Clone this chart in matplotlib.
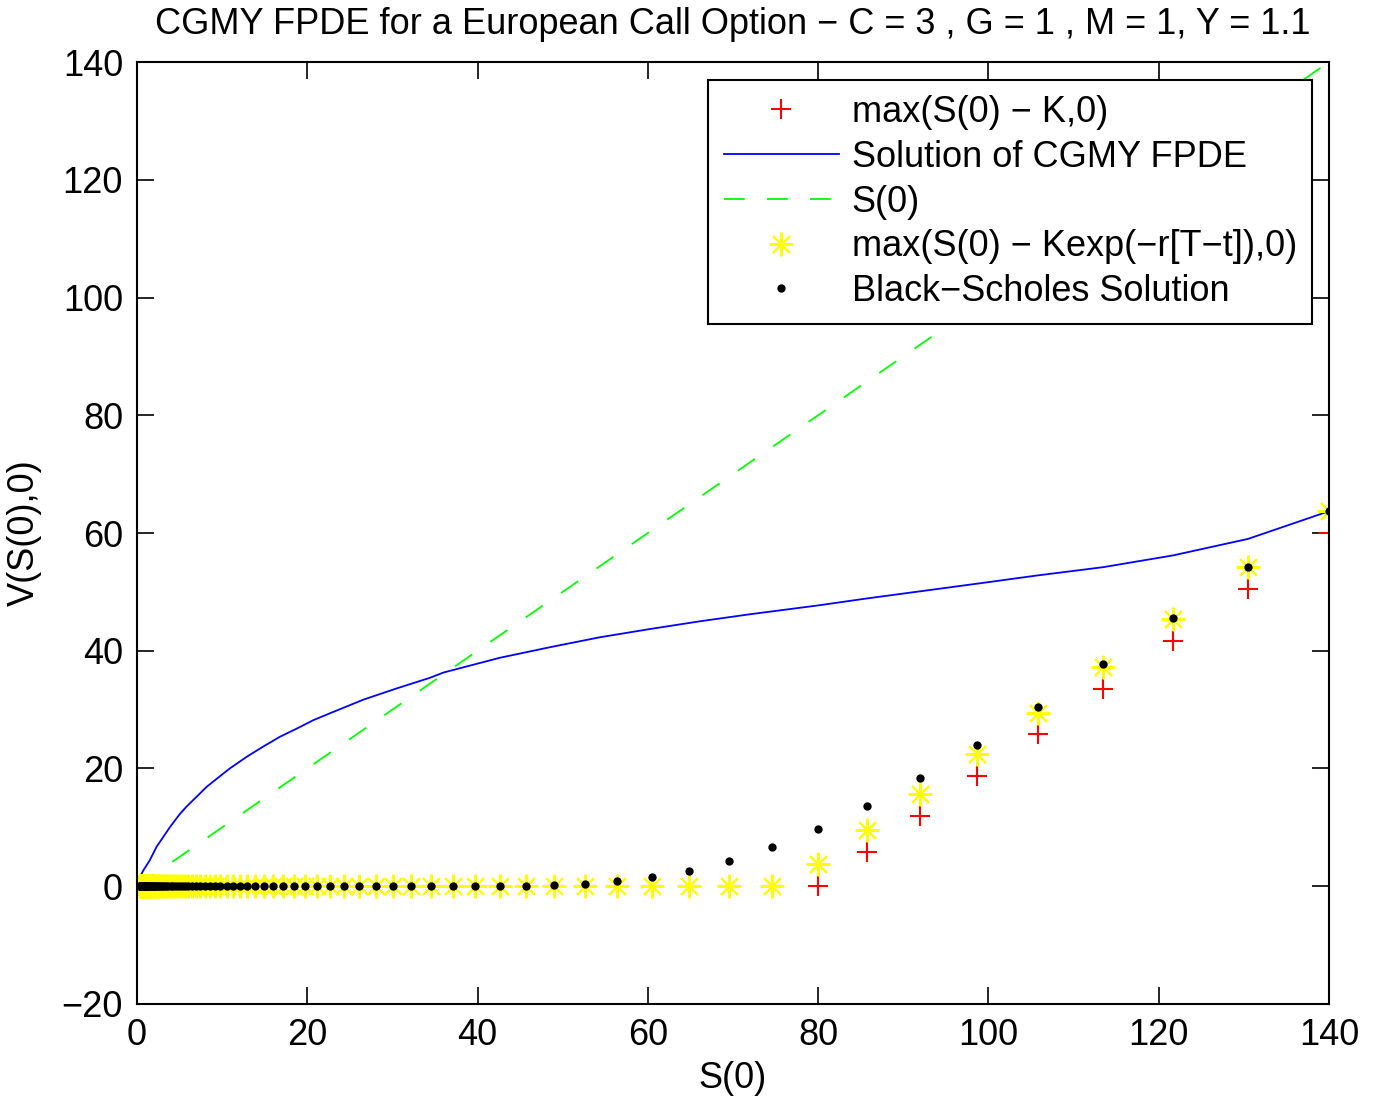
import numpy as np
import matplotlib
matplotlib.use('Agg')
import matplotlib.pyplot as plt

plt.rcParams['font.family'] = ['Liberation Sans', 'DejaVu Sans']

# S(0) grid below the strike
s_low = [0.30, 0.32, 0.34, 0.37, 0.39, 0.42, 0.45, 0.48, 0.52, 0.56, 0.60, 0.64, 0.69, 0.74,
         0.79, 0.85, 0.91, 0.98, 1.05, 1.12, 1.20, 1.29, 1.38, 1.48, 1.59, 1.71, 1.83, 1.96,
         2.11, 2.26, 2.42, 2.60, 2.79, 2.99, 3.20, 3.44, 3.69, 3.95, 4.24, 4.55, 4.88, 5.23,
         5.61, 6.01, 6.45, 6.92, 7.42, 7.95, 8.53, 9.15, 9.81, 10.52, 11.29, 12.10, 12.98,
         13.92, 14.93, 16.01, 17.17, 18.41, 19.75, 21.18, 22.71, 24.36, 26.12, 28.02, 30.05,
         32.22, 34.56, 37.06, 39.75, 42.63, 45.72, 49.03, 52.58, 56.39, 60.48, 64.86, 69.56,
         74.60]
# S(0) grid from the strike up
s_high = [80.00, 85.80, 92.01, 98.67, 105.82, 113.49, 121.71, 130.53, 140.00]

payoff_high = [0.0, 5.8, 12.0, 18.7, 25.8, 33.5, 41.7, 50.5, 60.0]
disc_high = [3.7, 9.5, 15.7, 22.4, 29.5, 37.2, 45.4, 54.2, 63.7]
# Black-Scholes values from S(0)=45.72 upwards, zero below
bs_tail = [0.1, 0.17, 0.45, 0.85, 1.6, 2.65, 4.3, 6.6,
           9.7, 13.6, 18.4, 24.0, 30.5, 37.7, 45.6, 54.3, 63.7]

# CGMY FPDE solution
cgmy_s = [0.0, 0.35, 0.75, 1.5, 2.3, 3.1, 3.9, 5.0, 5.8, 7.0, 8.2, 10.1, 10.9, 12.9, 14.8,
          16.8, 18.8, 20.7, 22.7, 26.6, 30.5, 34.4, 36.0, 42.6, 48.5, 54.4, 60.3, 66.1,
          72.0, 80.0, 85.8, 92.0, 98.7, 105.8, 113.5, 121.7, 130.5, 140.0]
cgmy_v = [0.0, 1.6, 2.7, 4.4, 6.7, 8.4, 10.1, 12.2, 13.5, 15.2, 16.9, 19.1, 20.0, 22.0, 23.7,
          25.4, 26.8, 28.2, 29.4, 31.7, 33.6, 35.4, 36.3, 38.8, 40.6, 42.3, 43.7, 45.0,
          46.2, 47.7, 48.9, 50.1, 51.4, 52.8, 54.2, 56.2, 59.0, 63.7]

s0 = np.array(s_low + s_high)
payoff = np.array([0.0] * len(s_low) + payoff_high)
disc = np.array([0.0] * len(s_low) + disc_high)
bs = np.array([0.0] * (len(s0) - len(bs_tail)) + bs_tail)

fig = plt.figure(figsize=(13.78, 11.04), dpi=100)
ax = fig.add_axes([0.0994, 0.0906, 0.8650, 0.8532])

fs = 26
ax.plot(s0, payoff, 'r+', ms=15, mew=1.5, label='max(S(0) \u2212 K,0)')
ax.plot(cgmy_s, cgmy_v, color='blue', lw=1.3, label='Solution of CGMY FPDE')
ax.plot([0, 140], [0, 140], color='#00ff00', lw=1.3, dashes=(11.5, 12.3), label='S(0)')
ax.plot(s0, disc, linestyle='none', marker=(8, 2, 0), color='yellow', ms=17, mew=1.5,
        label='max(S(0) \u2212 Kexp(\u2212r[T\u2212t]),0)')
ax.plot(s0, bs, 'o', color='black', ms=6, mew=0, label='Black\u2212Scholes Solution')

ax.set_xlim(0, 140)
ax.set_ylim(-20, 140)
ax.set_xticks(np.arange(0, 141, 20))
ax.set_yticks(np.arange(-20, 141, 20))
ax.tick_params(direction='in', length=12, width=1.2, top=True, right=True,
               labelsize=fs, pad=10)
for sp in ax.spines.values():
    sp.set_linewidth(1.5)

ax.set_xlabel('S(0)', fontsize=fs, labelpad=6)
ax.set_ylabel('V(S(0),0)', fontsize=fs, labelpad=14)
ax.set_title('CGMY FPDE for a European Call Option \u2212 C = 3 , G = 1 , M = 1, Y = 1.1',
             fontsize=fs, pad=20)

leg = ax.legend(loc='upper right', bbox_to_anchor=(0.986, 0.981), fontsize=fs,
                numpoints=1, handlelength=3.2, handletextpad=0.35, labelspacing=0.27,
                borderpad=0.42, borderaxespad=0, fancybox=False, framealpha=1,
                edgecolor='black')
leg.get_frame().set_linewidth(1.5)

fig.savefig('out.png', dpi=100)
